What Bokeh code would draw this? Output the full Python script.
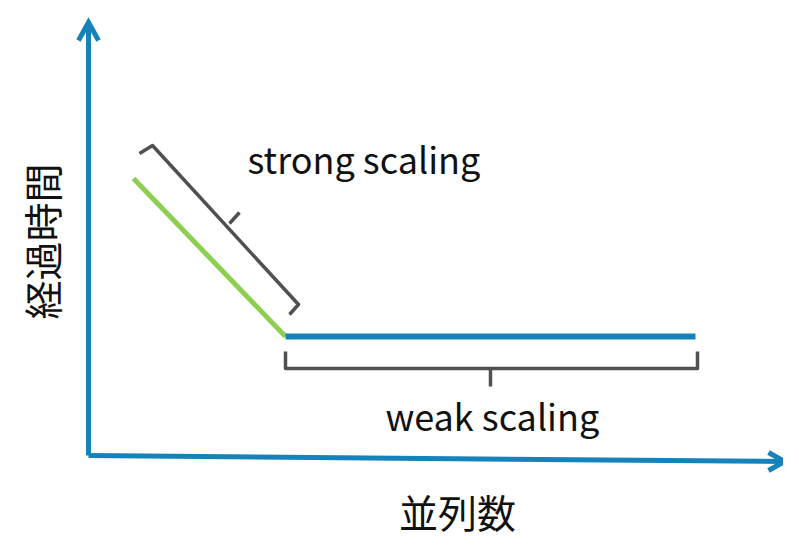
from bokeh.plotting import figure
from bokeh.models import Range1d
from bokeh.core.properties import value
from bokeh.embed import file_html
from bokeh.resources import INLINE
import math

# Diagram data (reference pixel space: x right, y down)
strong_x = [133, 285]
strong_y = [178, 336]
weak_x = [285, 695]
weak_y = [336, 336]

yaxis_x = [88, 88]
yaxis_y = [455, 24]
yhead_x = [78, 88, 98]
yhead_y = [40, 22, 40]

xaxis_x = [88, 782]
xaxis_y = [455, 461]
xhead_x = [768, 784, 768]
xhead_y = [452, 461, 470]

strong_br_x = [139, 152, 298, 289]
strong_br_y = [153, 145, 304, 314]
strong_tick_x = [229, 239]
strong_tick_y = [223, 212]

weak_br_x = [285, 285, 697, 697]
weak_br_y = [351, 368, 368, 351]
weak_tick_x = [490, 490]
weak_tick_y = [368, 386]

labels = ["strong scaling", "weak scaling"]
label_x = [247, 385]
label_y = [157, 414]

x_title = "並列数"
y_title = "経過時間"

BLUE = "#1582BA"
GREEN = "#8DCF50"
GRAY = "#505050"
FONT = "Noto Sans CJK JP"

p = figure(width=783, height=540, output_backend="svg", toolbar_location=None,
           x_range=Range1d(0, 783), y_range=Range1d(540, 0),
           min_border=0, outline_line_color=None)
p.axis.visible = False
p.grid.visible = False

p.line(yaxis_x, yaxis_y, line_color=BLUE, line_width=5)
p.line(yhead_x, yhead_y, line_color=BLUE, line_width=5, line_join="miter")
p.line(xaxis_x, xaxis_y, line_color=BLUE, line_width=5)
p.line(xhead_x, xhead_y, line_color=BLUE, line_width=5, line_join="miter")

p.line(strong_x, strong_y, line_color=GREEN, line_width=5)
p.line(weak_x, weak_y, line_color=BLUE, line_width=6)

p.line(strong_br_x, strong_br_y, line_color=GRAY, line_width=3.5, line_join="round")
p.line(strong_tick_x, strong_tick_y, line_color=GRAY, line_width=3.5)
p.line(weak_br_x, weak_br_y, line_color=GRAY, line_width=3.5, line_join="round")
p.line(weak_tick_x, weak_tick_y, line_color=GRAY, line_width=3.5)

p.text(x=label_x, y=label_y, text=labels, text_font=value(FONT),
       text_font_size="36px", text_color="#111111", text_baseline="alphabetic")

p.text(x=[457], y=[510], text=[x_title], text_font=value(FONT),
       text_font_size="39px", text_color="#111111",
       text_align="center", text_baseline="alphabetic")
p.text(x=[40], y=[241], text=[y_title], text_font=value(FONT),
       text_font_size="39px", text_color="#111111", angle=math.pi / 2,
       text_align="center", text_baseline="middle")

open("out.html", "w").write(file_html(p, INLINE))
